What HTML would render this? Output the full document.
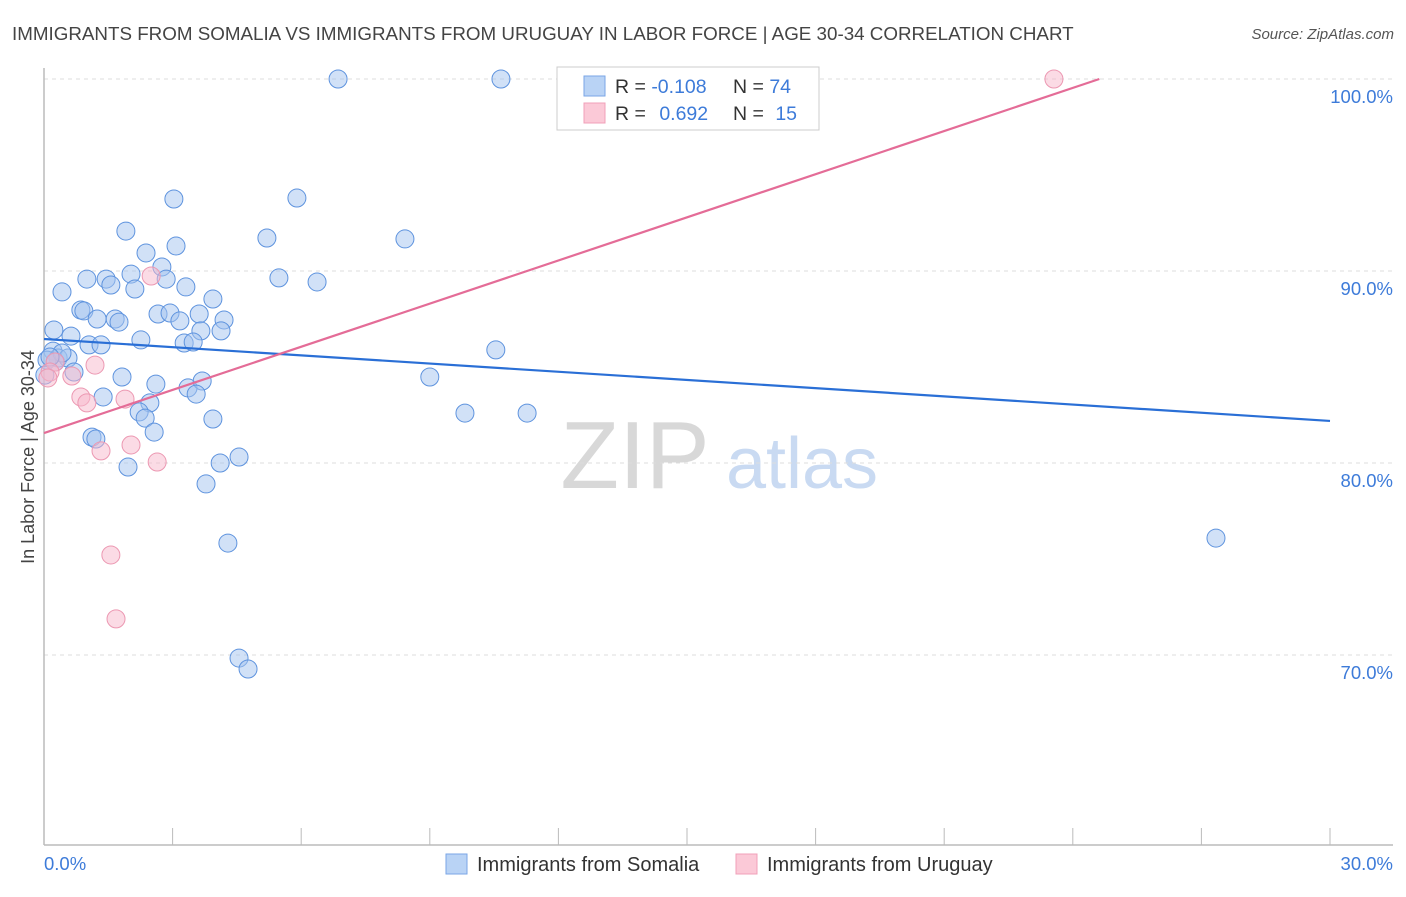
<!DOCTYPE html>
<html><head><meta charset="utf-8"><style>
body{margin:0;background:#fff;font-family:"Liberation Sans",sans-serif;}
svg text{font-family:"Liberation Sans",sans-serif;}
</style></head><body>
<svg id="chart" width="1406" height="892" xmlns="http://www.w3.org/2000/svg">
<text x="12" y="40" font-size="18.8" fill="#444">IMMIGRANTS FROM SOMALIA VS IMMIGRANTS FROM URUGUAY IN LABOR FORCE | AGE 30-34 CORRELATION CHART</text>
<text x="1394" y="39" font-size="15" fill="#555" text-anchor="end" font-style="italic">Source: ZipAtlas.com</text>
<g>
<text x="635" y="488" font-size="96" fill="#d8d8d8" font-family="Liberation Serif" text-anchor="middle">ZIP</text>
<text x="802" y="488" font-size="72" fill="#c9daf2" text-anchor="middle">atlas</text>
</g>
<g id="grid"></g>
<g id="axes"></g>
<g id="points"></g>
<g id="lines"></g>
<text transform="translate(34,457) rotate(-90)" font-size="18" fill="#444" text-anchor="middle">In Labor Force | Age 30-34</text>
<text x="44" y="870" font-size="18.5" fill="#3d7bd9">0.0%</text>
<text x="1393" y="870" font-size="18.5" fill="#3d7bd9" text-anchor="end">30.0%</text>
<g>
<rect x="557" y="67" width="262" height="63" fill="#fff" stroke="#ccc"/>
<rect x="584" y="76" width="21" height="20" fill="#b9d3f5" stroke="#7aa6e6"/>
<rect x="584" y="103" width="21" height="20" fill="#fbc9d7" stroke="#f0a0b8"/>
<text x="615" y="93" font-size="19.5" fill="#333">R = <tspan fill="#3d7bd9">-0.108</tspan></text>
<text x="733" y="93" font-size="19.5" fill="#333">N = <tspan fill="#3d7bd9">74</tspan></text>
<text x="615" y="120" font-size="19.5" fill="#333">R = <tspan fill="#3d7bd9" dx="8">0.692</tspan></text>
<text x="733" y="120" font-size="19.5" fill="#333">N = <tspan fill="#3d7bd9" dx="6">15</tspan></text>
</g>
<g>
<rect x="446" y="854" width="21" height="20" fill="#b9d3f5" stroke="#7aa6e6"/>
<text x="477" y="871" font-size="20" fill="#333">Immigrants from Somalia</text>
</g>
<g>
<rect x="736" y="854" width="21" height="20" fill="#fbc9d7" stroke="#f0a0b8"/>
<text x="767" y="871" font-size="20" fill="#333">Immigrants from Uruguay</text>
</g>
</svg>
<script>
const yTicks=[100,90,80,70];
const yTickLabels=["100.0%","90.0%","80.0%","70.0%"];
const xTicks=[0,3,6,9,12,15,18,21,24,27,30];
const somaliaX=[6.86,10.66,3.03,5.90,1.91,5.20,8.42,2.38,3.08,2.75,1.00,1.45,2.03,2.85,5.48,6.37,0.42,1.56,2.12,3.31,3.94,0.86,0.93,2.66,2.94,3.62,1.24,1.66,1.75,3.17,4.20,3.66,4.13,0.23,0.63,2.26,3.27,3.48,1.05,1.33,0.21,0.33,0.56,0.07,0.42,0.70,1.82,9.00,10.54,2.61,3.36,3.69,3.55,1.38,2.47,2.22,2.36,3.94,9.82,11.27,2.57,1.12,1.21,4.55,4.11,1.96,3.78,4.29,27.34,4.55,4.76,0.02,0.26,0.14];
const somaliaY=[100,100,93.75,93.8,92.08,91.72,91.67,90.94,91.30,90.21,89.58,89.58,89.84,89.58,89.64,89.43,88.91,89.27,89.06,89.17,88.54,87.97,87.92,87.76,87.81,87.76,87.50,87.50,87.34,87.40,87.45,86.88,86.88,86.93,86.61,86.41,86.25,86.30,86.15,86.15,85.83,85.47,85.47,85.36,85.73,84.74,84.48,84.48,85.89,84.11,83.91,84.27,83.59,83.44,83.13,82.66,82.34,82.29,82.60,82.60,81.61,81.35,81.25,80.31,80.00,79.79,78.91,75.83,76.09,69.84,69.27,84.58,85.26,85.52];
const uruguayX=[23.56,2.50,1.19,0.65,0.26,0.14,0.86,1.00,1.89,2.03,1.33,2.64,1.56,1.68,0.09];
const uruguayY=[100,89.74,85.10,84.53,85.26,84.74,83.44,83.13,83.33,80.94,80.63,80.05,75.21,71.88,84.43];
const somaliaTrend=[86.46,82.19];
const uruguayTrend=[81.56,0.749];
const NS="http://www.w3.org/2000/svg";
const xs=v=>44+v*(1286/30);
const ys=v=>79+(100-v)*19.2;
function mk(t,a,p){const e=document.createElementNS(NS,t);for(const k in a)e.setAttribute(k,a[k]);document.getElementById(p).appendChild(e);return e;}
yTicks.forEach((t,i)=>{
 const l=mk('line',{x1:44,x2:1393,y1:ys(t),y2:ys(t),stroke:'#ddd','stroke-dasharray':'4,4'},'grid');
 
 
 const tx=mk('text',{x:1393,y:ys(t)+24,'font-size':18.5,fill:'#3d7bd9','text-anchor':'end'},'grid');
 tx.textContent=yTickLabels[i];
 
 
});
const ax=mk('line',{x1:44,x2:44,y1:68,y2:845,stroke:'#bbb','stroke-width':1.5},'axes');


const bx=mk('line',{x1:44,x2:1393,y1:845,y2:845,stroke:'#bbb','stroke-width':1.5},'axes');


xTicks.forEach(t=>{
 const l=mk('line',{x1:xs(t),x2:xs(t),y1:828,y2:845,stroke:'#bbb'},'axes');
 
 
});
somaliaX.forEach((x,i)=>{
 const c=mk('circle',{cx:xs(x),cy:ys(somaliaY[i]),r:9,fill:'rgba(164,196,240,0.5)',stroke:'#5e93de','stroke-width':1},'points');
 
 
});
uruguayX.forEach((x,i)=>{
 const c=mk('circle',{cx:xs(x),cy:ys(uruguayY[i]),r:9,fill:'rgba(248,184,204,0.5)',stroke:'#ec98b2','stroke-width':1},'points');
 
 
});
const bl=mk('line',{x1:xs(0),y1:ys(somaliaTrend[0]),x2:xs(30),y2:ys(somaliaTrend[1]),stroke:'#2a6fd6','stroke-width':2.2},'lines');


const xEnd=Math.min(30,(100-uruguayTrend[0])/uruguayTrend[1]);
const pl=mk('line',{x1:xs(0),y1:ys(uruguayTrend[0]),x2:xs(xEnd),y2:ys(uruguayTrend[0]+uruguayTrend[1]*xEnd),stroke:'#e46c97','stroke-width':2.2},'lines');


</script>
</body></html>
